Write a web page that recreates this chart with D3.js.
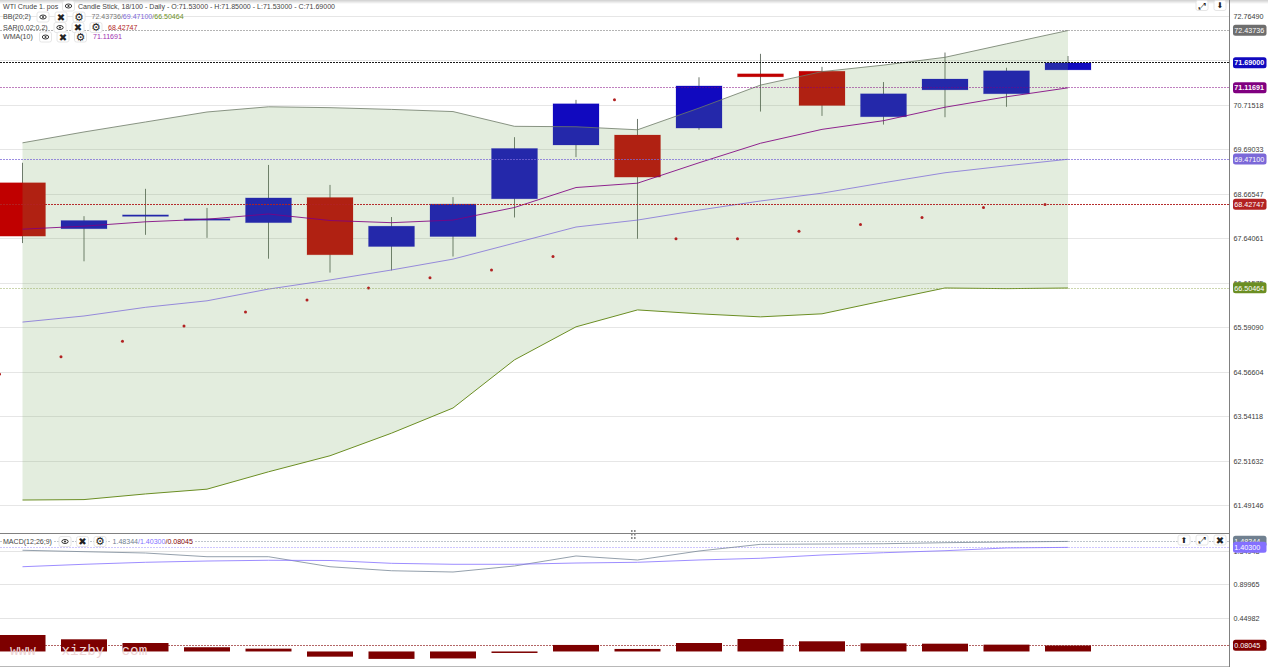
<!DOCTYPE html>
<html><head><meta charset="utf-8">
<script src="https://cdn.jsdelivr.net/npm/d3@7/dist/d3.min.js"></script>
<style>html,body{margin:0;padding:0;background:#fff;overflow:hidden}svg{display:block;font-family:"Liberation Sans",Arial,sans-serif}</style>
</head><body><svg id="c" width="1268" height="670"></svg>
<script>
// ---- data ----
const open  = [68.93,67.87,68.16,68.07,68.01,68.59,67.46,67.69,68.56,69.80,70.03,70.19,71.44,71.50,70.45,71.07,70.98,71.53];
const close = [67.70,68.06,68.19,68.10,68.58,67.27,67.93,68.44,69.72,70.75,69.06,71.16,71.37,70.71,70.98,71.32,71.51,71.69];
const high  = [69.39,68.16,68.79,68.35,69.34,68.88,68.14,68.60,69.98,70.84,70.40,71.36,71.90,71.60,71.25,71.93,71.58,71.85];
const low   = [67.54,67.12,67.73,67.66,67.18,66.86,66.91,67.23,68.13,69.52,67.64,70.15,70.57,70.47,70.27,70.44,70.68,71.53];
const bbUpper=[69.85,70.10,70.33,70.56,70.68,70.66,70.62,70.57,70.23,70.22,70.15,70.65,71.18,71.49,71.64,71.82,72.13,72.43736];
const bbMid  =[65.72,65.86,66.06,66.21,66.48,66.69,66.92,67.17,67.54,67.91,68.07,68.30,68.51,68.69,68.93,69.16,69.32,69.471];
const bbLower=[61.62,61.63,61.76,61.87,62.27,62.64,63.16,63.74,64.85,65.61,66.00,65.91,65.84,65.91,66.21,66.505,66.49,66.50464];
const wma    =[67.86,67.93,68.03,68.09,68.21,68.06,68.01,68.07,68.36,68.82,68.92,69.39,69.84,70.16,70.36,70.67,70.91,71.11691];
const sar    =[64.52,64.92,65.28,65.63,65.95,66.23,66.505,66.74,66.92,67.23,70.84,67.64,67.64,67.81,67.97,68.13,68.36,68.42747];
const macdLine  =[1.364,1.345,1.327,1.277,1.277,1.142,1.088,1.071,1.152,1.287,1.233,1.354,1.444,1.448,1.452,1.466,1.475,1.48344];
const macdSignal=[1.142,1.175,1.202,1.219,1.229,1.226,1.188,1.175,1.175,1.192,1.202,1.233,1.256,1.300,1.331,1.358,1.395,1.403];
const macdHist  =[.222,.164,.114,.057,.038,-.07,-.10,-.094,-.02,.088,.034,.114,.168,.137,.11,.105,.092,.08045];
const priceTicks=["72.76490","71.74004","70.71518","69.69033","68.66547","67.64061","66.61575","65.59090","64.56604","63.54118","62.51632","61.49146"];
const macdTicks=["1.34948","0.89965","0.44982"];
const priceTags=[["72.43736",72.43736,"#6e6e6e","#777",.55],["71.69000",71.69,"#1109bf","#000",.9],["71.11691",71.11691,"#800080","#800080",.5],["69.47100",69.471,"#7b68d8","#7b68d8",.75],["68.42747",68.42747,"#b22222","#b22222",.95],["66.50464",66.50464,"#6b8e23","#9aad60",.5]];
const macdTags=[["1.48344",1.48344,"#708090","#708090",.45],["1.40300",1.403,"#8470ff","#8470ff",.4],["0.08045",0.08045,"#800000","#800000",.6]];
const header="WTI Crude 1. pos", title="Candle Stick, 18/100 - Daily - O:71.53000 - H:71.85000 - L:71.53000 - C:71.69000";
const watermark="www   xizby  com";

// ---- scales ----
const svg=d3.select("#c");
const idx=d3.range(open.length);
const x=d3.scaleBand().domain(idx).range([-0.5,1091]).paddingInner(0.252).paddingOuter(0);
const cx=i=>x(i)+x.bandwidth()/2;
const y=d3.scaleLinear().domain([61.49146,72.7649]).range([505.6,16.3]);
const ym=d3.scaleLinear().domain([0.08045,1.48344]).range([645.5,541.4]);
const axisX=1229.5;
const crisp=v=>Math.floor(v)+.5;
const FS=7.05, TS=7.2;

// top shadow
const defs=svg.append("defs");
const g0=defs.append("linearGradient").attr("id","shade").attr("x1",0).attr("x2",0).attr("y1",0).attr("y2",1);
g0.append("stop").attr("offset",0).attr("stop-color","#cfcfcf");
g0.append("stop").attr("offset",1).attr("stop-color","#fff");
svg.append("rect").attr("width",1268).attr("height",4).attr("fill","url(#shade)");
defs.append("clipPath").attr("id","pane").append("rect").attr("x",0).attr("y",0).attr("width",axisX).attr("height",533);

// grid
svg.append("g").selectAll("line").data(priceTicks).join("line")
 .attr("x1",0).attr("x2",axisX).attr("y1",d=>crisp(y(+d))).attr("y2",d=>crisp(y(+d)))
 .attr("stroke","#e6e6e6");
svg.append("g").selectAll("line").data(macdTicks).join("line")
 .attr("x1",0).attr("x2",axisX).attr("y1",d=>crisp(ym(+d))).attr("y2",d=>crisp(ym(+d)))
 .attr("stroke","#e4e4e4");

const main=svg.append("g").attr("clip-path","url(#pane)");
// candles
main.append("g").selectAll("line").data(idx).join("line")
 .attr("x1",i=>cx(i)).attr("x2",i=>cx(i)).attr("y1",i=>y(high[i])).attr("y2",i=>y(low[i]))
 .attr("stroke","#3c4a3c").attr("stroke-opacity",.75).attr("stroke-width",1);
main.append("g").selectAll("rect").data(idx).join("rect")
 .attr("x",i=>x(i)).attr("width",x.bandwidth())
 .attr("y",i=>y(Math.max(open[i],close[i])))
 .attr("height",i=>Math.max(1.5,Math.abs(y(open[i])-y(close[i]))))
 .attr("fill",i=>close[i]>=open[i]?"#1109bf":"#c00000")
 .attr("stroke",i=>close[i]>=open[i]?"#1109bf":"#c00000").attr("stroke-opacity",.25).attr("stroke-width",.8);

// bollinger area over candles
const area=d3.area().x((d,i)=>cx(i)).y0((d,i)=>y(bbLower[i])).y1(d=>y(d));
main.append("path").datum(bbUpper).attr("d",area).attr("fill","rgba(115,165,90,.2)");
const line=a=>d3.line().x((d,i)=>cx(i)).y(d=>a(d));
const addLine=(g,data,a,col,w,op)=>g.append("path").datum(data).attr("d",line(a)).attr("fill","none").attr("stroke",col).attr("stroke-width",w).attr("stroke-opacity",op);
addLine(main,bbUpper,y,"#6e7b68",1,.8);
addLine(main,bbMid,y,"#7b68d8",1,.75);
addLine(main,bbLower,y,"#6b8e23",1,1);
addLine(main,wma,y,"#800080",1,.85);

// sar
main.append("g").selectAll("circle").data(sar).join("circle")
 .attr("cx",(d,i)=>x(i)).attr("cy",d=>y(d)).attr("r",1.5).attr("fill","#b22222");

// price lines
const dash=(t,s)=>svg.append("line").attr("x1",0).attr("x2",axisX).attr("y1",crisp(s(t[1]))).attr("y2",crisp(s(t[1]))).attr("stroke",t[3]).attr("stroke-dasharray","2,1").attr("stroke-opacity",t[4]);
priceTags.forEach(t=>dash(t,y));

// MACD pane
const histTop=d=>Math.min(ym(d),ym(0)), histH=d=>Math.max(1.5,Math.abs(ym(d)-ym(0)));
macdTags.slice(2).forEach(t=>dash(t,ym));
svg.append("g").selectAll("rect").data(macdHist).join("rect")
 .attr("x",(d,i)=>x(i)).attr("width",x.bandwidth()).attr("y",histTop).attr("height",histH).attr("fill","#7d0000");
macdTags.slice(0,2).forEach(t=>dash(t,ym));
addLine(svg,macdLine,ym,"#708090",1,.75);
addLine(svg,macdSignal,ym,"#8470ff",1,.8);

// watermark
svg.append("text").attr("x",10).attr("y",655).style("white-space","pre").attr("font-family","Liberation Mono, monospace").attr("font-size",14.3).attr("fill","#ecd4d4").text(watermark);

// frames
svg.append("line").attr("x1",0).attr("x2",axisX).attr("y1",533.5).attr("y2",533.5).attr("stroke","#808080");
svg.append("rect").attr("x",0).attr("y",666).attr("width",axisX).attr("height",4).attr("fill","#fff");
svg.append("line").attr("x1",0).attr("x2",axisX).attr("y1",666.5).attr("y2",666.5).attr("stroke","#b8b8b8");
svg.append("line").attr("x1",axisX).attr("x2",axisX).attr("y1",0).attr("y2",667).attr("stroke","#808080");
// pane handle
svg.append("g").selectAll("rect").data([[631,530],[634,530],[631,533.5],[634,533.5],[631,537],[634,537]]).join("rect")
 .attr("x",d=>d[0]).attr("y",d=>d[1]).attr("width",1.6).attr("height",2).attr("fill","#8a8a8a");

// axis labels
const tickText=(arr,s)=>svg.append("g").selectAll("text").data(arr).join("text")
 .attr("x",1233.5).attr("y",d=>s(+d)+2.6).attr("font-size",TS).attr("fill","#3a3a3a").text(d=>d);
tickText(priceTicks,y); tickText(macdTicks,ym);
const tag=(t,s)=>{const yy=s(t[1]);
 svg.append("rect").attr("x",1233).attr("y",yy-5.7).attr("width",33.5).attr("height",11).attr("rx",2.5).attr("fill",t[2]);
 svg.append("text").attr("x",1234.3).attr("y",yy+2.5).attr("font-size",TS).attr("fill","#fff").attr("font-weight",t[1]===71.69||t[1]===71.11691?"bold":"normal").text(t[0]);};
priceTags.forEach(t=>tag(t,y));
macdTags.forEach(t=>tag(t,ym));

// header widgets
const T=(tx,px,py,col)=>svg.append("text").attr("x",px).attr("y",py).attr("font-size",FS).attr("fill",col||"#444").text(tx);
const multi=(parts,px,py)=>{const t=svg.append("text").attr("x",px).attr("y",py).attr("font-size",FS);parts.forEach(p=>t.append("tspan").attr("fill",p[1]).text(p[0]));};
const btn=(cx_,cy_)=>svg.append("rect").attr("x",cx_-6).attr("y",cy_-5).attr("width",12).attr("height",10).attr("rx",2).attr("fill","#fff").attr("stroke","#e6e6e6");
const eye=(cx_,cy_)=>{btn(cx_,cy_);
 svg.append("ellipse").attr("cx",cx_).attr("cy",cy_).attr("rx",3.2).attr("ry",2).attr("fill","none").attr("stroke","#333").attr("stroke-width",1);
 svg.append("circle").attr("cx",cx_).attr("cy",cy_).attr("r",1).attr("fill","#333");};
const ico=(s,cx_,cy_,fs)=>{btn(cx_,cy_);
 svg.append("text").attr("x",cx_).attr("y",cy_+fs*.36).attr("text-anchor","middle").attr("font-family","DejaVu Sans").attr("font-size",fs).attr("fill","#222").text(s);};
T(header,3,8.5); eye(68.5,6); T(title,78,8.5);
T("BB(20;2)",3,18.5); eye(43,17); ico("\u2716",61,17,10); ico("\u2699",79,17,11);
multi([["72.43736/","#777"],["69.47100","#7b68d8"],["/","#777"],["66.50464","#6b8e23"]],91.5,18.5);
T("SAR(0.02;0.2)",3,29.5); eye(60,27.5); ico("\u2716",78,27.5,10); ico("\u2699",96,27.5,11);
T("68.42747",108,29.5,"#b22222");
T("WMA(10)",3,39); eye(45.5,37); ico("\u2716",63,37,10); ico("\u2699",80.5,37,11);
T("71.11691",93,39,"#a030b0");
svg.append("rect").attr("x",2).attr("y",537).attr("width",52).attr("height",9).attr("fill","#fff");
svg.append("rect").attr("x",111).attr("y",537).attr("width",84).attr("height",9).attr("fill","#fff");
T("MACD(12;26;9)",3,543.5); eye(65,541.5); ico("\u2716",82.5,541.5,10); ico("\u2699",100,541.5,11);
multi([["1.48344","#708090"],["/","#8470ff"],["1.40300","#8470ff"],["/","#800000"],["0.08045","#800000"]],112.5,543.5);
// top-right buttons
ico("\u2922",1202,5.5,9); ico("\u2B07",1220,5.5,8);
ico("\u2B06",1184,540,8); ico("\u2922",1202,540,9); ico("\u2716",1220,540,10);
</script></body></html>
